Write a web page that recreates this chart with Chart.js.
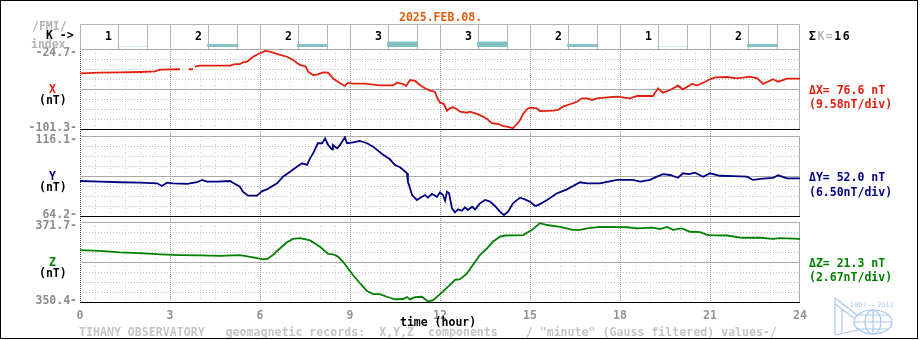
<!DOCTYPE html>
<html>
<head>
<meta charset="utf-8">
<script src="https://cdn.jsdelivr.net/npm/chart.js@4.4.0/dist/chart.umd.min.js"></script>
<style>
  html, body { margin: 0; padding: 0; background: #fff; }
  #wrap { position: relative; width: 920px; height: 340px; overflow: hidden; background: #fff; }
  #wrap canvas { position: absolute; left: 0; top: 0; }
  .frame { position: absolute; left: 0; top: 0; width: 918px; height: 339px; box-sizing: border-box; border: 1px solid #000; }
  .t { position: absolute; font: bold 11.5px "DejaVu Sans Mono", monospace; line-height: 12px; white-space: pre; }
  .gray { color: #b4b4b4; }
  .red { color: #e02010; }
  .navy { color: #000080; }
  .green { color: #008000; }
</style>
</head>
<body>
<div id="wrap">
  <canvas id="kChart" width="920" height="340"></canvas>
  <canvas id="xChart" width="920" height="340"></canvas>
  <canvas id="yChart" width="920" height="340"></canvas>
  <canvas id="zChart" width="920" height="340"></canvas>

  <div class="t" style="left:399px;top:11px;color:#e06010">2025.FEB.08.</div>
  <div class="t gray" style="left:32px;top:20px">/FMI/</div>
  <div class="t" style="left:46px;top:29px">K -&gt;</div>
  <div class="t gray" style="left:31px;top:38px">index</div>
  <div class="t" style="left:809px;top:30px;letter-spacing:1.5px">Σ<span class="gray">K=</span>16</div>

  <div class="t red" style="left:49px;top:83px">X</div>
  <div class="t" style="left:39px;top:94px">(nT)</div>
  <div class="t navy" style="left:49px;top:170px">Y</div>
  <div class="t" style="left:39px;top:181px">(nT)</div>
  <div class="t green" style="left:49px;top:256px">Z</div>
  <div class="t" style="left:39px;top:267px">(nT)</div>

  <div class="t red" style="left:809px;top:84px">ΔX= 76.6 nT</div>
  <div class="t red" style="left:809px;top:98px">(9.58nT/div)</div>
  <div class="t navy" style="left:809px;top:171px">ΔY= 52.0 nT</div>
  <div class="t navy" style="left:809px;top:186px">(6.50nT/div)</div>
  <div class="t green" style="left:809px;top:257px">ΔZ= 21.3 nT</div>
  <div class="t green" style="left:809px;top:271px">(2.67nT/div)</div>

  <div class="t" style="left:400px;top:316px">time (hour)</div>
  <div class="t" style="left:79px;top:326px;color:#c4c4c4;font-size:11.6px">TIHANY OBSERVATORY   geomagnetic records:  X,Y,Z  components    / "minute" (Gauss filtered) values-/</div>

  <svg style="position:absolute;left:830px;top:296px" width="70" height="42" viewBox="0 0 70 42">
    <g fill="none" stroke="#a9c7ee" stroke-width="1.2">
      <path d="M5 2 L5 39 M5 2 L28 20 M5 8 L24 22 M5 39 L28 34 M12 14 L12 36"/>
      <ellipse cx="43" cy="26" rx="19" ry="12"/>
      <ellipse cx="43" cy="26" rx="8" ry="12"/>
      <path d="M24 26 H62 M27 19 H59 M27 33 H59 M43 14 V38"/>
    </g>
    <text x="20" y="11" font-family="DejaVu Sans" font-size="6.5" fill="#a9c7ee">1907 — 2012</text>
  </svg>

  <div class="frame"></div>
</div>

<script>
const kValues = [1, 2, 2, 3, 3, 2, 1, 2];
const kStarts = [0, 3, 6, 9, 12, 15, 18, 21];

const xHours = [
  0, 0.67, 1.33, 2, 2.5, 2.67, 3.33, 3.45, 3.63, 3.77,
  3.8, 3.83, 4, 5, 5.17, 5.33, 5.43, 5.57, 5.77, 6,
  6.17, 6.33, 6.67, 6.9, 7.1, 7.33, 7.53, 7.6, 7.77, 7.93,
  8.1, 8.27, 8.43, 8.67, 8.83, 8.93, 9.1, 9.5, 10, 10.43,
  10.57, 10.77, 10.87, 11, 11.17, 11.33, 11.5, 11.67, 11.83, 11.9,
  12, 12.13, 12.23, 12.33, 12.43, 12.57, 12.67, 12.9, 13, 13.23,
  13.4, 13.57, 13.73, 13.93, 14.1, 14.33, 14.43, 14.57, 14.67, 14.77,
  14.9, 15, 15.23, 15.33, 15.77, 15.93, 16.1, 16.33, 16.57, 16.73,
  16.9, 17.07, 17.23, 17.57, 17.9, 18.33, 18.57, 19.1, 19.27, 19.43,
  19.67, 19.93, 20.1, 20.4, 20.57, 20.77, 21, 21.17, 21.57, 21.9,
  22.33, 22.57, 22.77, 23.1, 23.27, 23.57, 24
];
const xValues = [
  -48.0, -47.4, -47.0, -46.7, -46.2, -44.5, -44.1, null, -44.1, -44.1,
  null, -41.6, -40.7, -40.7, -39.1, -39.1, -37.6, -36.9, -32.1, -28.8,
  -26.6, -27.3, -30.4, -32.1, -35.2, -40.0, -41.6, -46.4, -49.6, -48.9,
  -47.0, -47.4, -52.8, -57.5, -60.1, -57.0, -57.9, -57.9, -59.5, -59.5,
  -57.0, -58.2, -60.1, -54.4, -55.3, -59.2, -62.3, -64.6, -65.6, -70.9,
  -76.1, -77.4, -83.8, -81.5, -80.5, -82.4, -84.7, -85.7, -84.7, -86.9,
  -88.9, -91.7, -95.8, -96.5, -98.4, -99.7, -100.6, -96.5, -92.7, -86.9,
  -82.4, -80.9, -81.5, -84.1, -83.8, -83.1, -79.9, -77.6, -75.2, -71.9,
  -71.9, -73.5, -71.9, -71.0, -70.4, -71.9, -69.7, -69.7, -62.3, -66.5,
  -64.0, -59.8, -63.3, -58.2, -59.5, -57.0, -53.7, -51.8, -51.5, -52.8,
  -51.2, -52.8, -58.2, -53.7, -56.0, -53.1, -53.1
];

const yHours = [
  0, 0.67, 1.33, 2, 2.57, 2.73, 2.9, 3.1, 3.57, 3.9,
  4.07, 4.23, 4.57, 5, 5.1, 5.33, 5.43, 5.6, 5.9, 6.07,
  6.23, 6.57, 6.77, 7, 7.23, 7.4, 7.57, 7.67, 7.77, 7.93,
  8.07, 8.17, 8.27, 8.4, 8.43, 8.57, 8.67, 8.83, 8.9, 9.1,
  9.33, 9.57, 9.77, 10.07, 10.33, 10.5, 10.67, 10.9, 10.93, 11.07,
  11.23, 11.33, 11.5, 11.6, 11.73, 11.9, 12, 12.1, 12.17, 12.23,
  12.3, 12.4, 12.5, 12.6, 12.73, 12.83, 12.93, 13.07, 13.17, 13.33,
  13.5, 13.67, 13.83, 14, 14.13, 14.27, 14.43, 14.67, 14.83, 15,
  15.17, 15.27, 15.57, 15.9, 16.23, 16.67, 16.9, 17.33, 17.9, 18.43,
  18.67, 19, 19.23, 19.43, 19.67, 19.93, 20.1, 20.3, 20.5, 20.77,
  21, 21.33, 21.77, 22.23, 22.43, 22.77, 23.1, 23.27, 23.57, 24
];
const yValues = [
  86.9, 86.5, 86.1, 85.8, 85.4, 83.7, 85.8, 85.4, 85.1, 86.1,
  87.6, 86.5, 86.5, 86.9, 85.8, 83.2, 80.0, 77.4, 77.4, 80.4,
  81.5, 85.4, 89.7, 92.9, 96.2, 98.4, 97.3, 101.6, 104.9, 111.4,
  111.4, 114.6, 110.3, 107.5, 110.3, 108.1, 110.3, 115.3, 111.4, 112.0,
  112.9, 111.4, 109.2, 104.4, 101.0, 97.3, 95.8, 91.9, 86.5, 77.8,
  74.6, 75.9, 77.8, 76.1, 78.5, 76.7, 79.6, 77.8, 74.1, 80.0,
  79.1, 69.2, 66.6, 68.5, 67.6, 69.8, 68.1, 70.2, 68.5, 72.4,
  74.6, 73.5, 70.7, 67.0, 64.8, 67.0, 72.4, 76.1, 75.0, 73.5,
  70.7, 71.3, 74.6, 78.9, 81.5, 86.1, 85.4, 85.4, 87.6, 87.6,
  86.5, 87.6, 89.7, 91.4, 90.8, 89.0, 91.9, 91.4, 92.3, 89.7,
  91.9, 90.3, 90.1, 89.7, 87.6, 88.4, 89.0, 90.6, 88.6, 88.6
];

const zHours = [
  0, 0.67, 1.33, 2, 2.67, 3.33, 4, 4.67, 5.33, 5.77,
  6.07, 6.23, 6.43, 6.67, 6.9, 7.1, 7.33, 7.67, 8, 8.27,
  8.43, 8.6, 8.77, 8.93, 9.1, 9.33, 9.57, 9.77, 10, 10.23,
  10.5, 10.77, 10.9, 11, 11.17, 11.4, 11.6, 11.77, 12, 12.27,
  12.5, 12.67, 12.9, 13.1, 13.33, 13.57, 13.77, 14, 14.17, 14.77,
  15.07, 15.33, 15.57, 16, 16.43, 16.67, 16.9, 17.33, 18.23, 18.57,
  19.1, 19.33, 19.57, 19.77, 20.07, 20.33, 20.67, 20.93, 21.57, 22.07,
  22.67, 23.1, 23.33, 24
];
const zValues = [
  364.2, 364.0, 363.6, 363.4, 363.1, 362.9, 362.8, 362.7, 362.9, 362.3,
  361.8, 361.8, 362.9, 364.7, 366.3, 367.2, 367.4, 366.8, 365.1, 363.2,
  363.1, 362.5, 361.1, 359.4, 357.6, 355.4, 353.3, 352.5, 352.5, 351.8,
  351.1, 351.2, 351.7, 351.1, 351.7, 351.8, 350.5, 350.9, 352.5, 354.5,
  356.3, 356.5, 358.0, 360.3, 362.9, 364.7, 366.5, 367.8, 368.1, 368.2,
  369.6, 371.4, 370.9, 370.4, 369.6, 369.6, 370.0, 370.4, 370.3, 370.0,
  370.2, 369.8, 370.4, 369.6, 370.0, 369.1, 369.0, 368.2, 368.1, 367.5,
  367.5, 367.2, 367.4, 367.2
];

const hourTicks = [0, 3, 6, 9, 12, 15, 18, 21, 24];
const FONT = 'bold 11.5px "DejaVu Sans Mono", monospace';

function dashLine(ctx, x1, y1, x2, y2, color, dash) {
  ctx.beginPath();
  ctx.setLineDash(dash);
  ctx.strokeStyle = color;
  ctx.moveTo(x1, y1);
  ctx.lineTo(x2, y2);
  ctx.stroke();
}

const snap = v => Math.round(v) + 0.5;

// grid + value labels of one magnetogram panel
const panelGrid = {
  id: 'panelGrid',
  beforeDatasetsDraw(chart, args, opts) {
    const { ctx, chartArea: a, scales: { x, y } } = chart;
    ctx.save();
    ctx.lineWidth = 1;
    const step = (y.max - y.min) / opts.divs;
    for (let i = 1; i < opts.divs; i++) {
      if (i * 2 === opts.divs) continue;
      const py = snap(y.getPixelForValue(y.min + i * step));
      dashLine(ctx, a.left, py, a.right, py, '#bdbdbd', [1, 2]);
    }
    for (let h = 0.5; h < 24; h += 0.5) {
      const px = snap(x.getPixelForValue(h));
      if (h % 3 === 0) dashLine(ctx, px, a.top, px, a.bottom + opts.gap, '#9a9a9a', [1, 1]);
      else dashLine(ctx, px, a.top, px, a.bottom, '#c8c8c8', [1, 3]);
    }
    const l = snap(x.getPixelForValue(0));
    const r = snap(x.getPixelForValue(24)) - 1;
    dashLine(ctx, l, a.top, l, a.bottom + opts.gap, '#444', [1, 1]);
    dashLine(ctx, r, a.top, r, a.bottom, '#aaa', []);
    const top = snap(y.getPixelForValue(y.max));
    const mid = snap(y.getPixelForValue((y.max + y.min) / 2));
    const bot = snap(y.getPixelForValue(y.min));
    dashLine(ctx, a.left, top, a.right, top, '#aaa', []);
    dashLine(ctx, a.left, mid, a.right, mid, '#aaa', []);
    dashLine(ctx, a.left, bot, a.right, bot, '#000', []);
    ctx.restore();
  },
  afterDraw(chart, args, opts) {
    const { ctx, scales: { x, y } } = chart;
    ctx.save();
    ctx.font = FONT;
    ctx.fillStyle = '#8c8c8c';
    ctx.textAlign = 'right';
    ctx.fillText(y.max.toFixed(1) + '-', 77, y.getPixelForValue(y.max) + 7);
    ctx.fillText(y.min.toFixed(1) + '-', 77, y.getPixelForValue(y.min) + 1.5);
    if (opts.hourTicks) {
      ctx.textAlign = 'center';
      ctx.fillStyle = '#939393';
      hourTicks.forEach(h => ctx.fillText(String(h), x.getPixelForValue(h), 318.5));
    }
    ctx.restore();
  }
};

// K-index row: cells, boxes and numbers
const kGrid = {
  id: 'kGrid',
  beforeDatasetsDraw(chart, args, opts) {
    const { ctx, chartArea: a, scales: { x } } = chart;
    ctx.save();
    ctx.lineWidth = 1;
    const top = snap(a.top);
    dashLine(ctx, a.left, top, a.right, top, '#b4b4b4', []);
    hourTicks.forEach(h => {
      const px = snap(x.getPixelForValue(h)) - (h === 24 ? 1 : 0);
      dashLine(ctx, px, a.top, px, opts.floor, '#b4b4b4', []);
    });
    chart.getDatasetMeta(0).data.forEach(bar => {
      const l = Math.round(bar.x - bar.width / 2) + 0.5;
      const r = Math.round(bar.x + bar.width / 2) - 0.5;
      const b = Math.round(bar.base) - 0.5;
      ctx.beginPath();
      ctx.setLineDash([]);
      ctx.strokeStyle = '#b4b4b4';
      ctx.moveTo(l, top);
      ctx.lineTo(l, b);
      ctx.lineTo(r, b);
      ctx.lineTo(r, top);
      ctx.stroke();
    });
    ctx.restore();
  },
  afterDatasetsDraw(chart) {
    const { ctx, scales: { x } } = chart;
    ctx.save();
    ctx.font = FONT;
    ctx.fillStyle = '#000';
    ctx.textAlign = 'center';
    kValues.forEach((k, i) => ctx.fillText(String(k), x.getPixelForValue(kStarts[i] + 0.95), 39.5));
    ctx.restore();
  }
};

function baseOptions(padTop, padBottom) {
  return {
    responsive: false,
    animation: false,
    devicePixelRatio: 1,
    events: [],
    layout: { padding: { left: 80, right: 120, top: padTop, bottom: padBottom } },
    plugins: { legend: { display: false }, tooltip: { enabled: false } }
  };
}

function drawK() {
  const options = baseOptions(24, 293);
  options.scales = {
    x: { type: 'linear', min: 0, max: 24, offset: false, display: false },
    y: { min: 1, max: 10, display: false }
  };
  options.plugins.kGrid = { floor: 49 };
  new Chart(document.getElementById('kChart'), {
    type: 'bar',
    data: {
      datasets: [{
        data: kValues.map((k, i) => ({ x: kStarts[i] + 1.75, y: k })),
        backgroundColor: '#80c0c0',
        borderWidth: 0,
        barThickness: 30
      }]
    },
    options,
    plugins: [kGrid]
  });
}

function drawPanel(id, hours, values, color, yMin, yMax, padTop, padBottom, gap, ticks) {
  const options = baseOptions(padTop, padBottom);
  options.scales = {
    x: { type: 'linear', min: 0, max: 24, display: false },
    y: { min: yMin, max: yMax, display: false }
  };
  options.plugins.panelGrid = { divs: 8, gap, hourTicks: ticks };
  new Chart(document.getElementById(id), {
    type: 'line',
    data: {
      datasets: [{
        data: hours.map((h, i) => ({ x: h, y: values[i] })),
        borderColor: color,
        borderWidth: 1.8,
        pointRadius: 0,
        tension: 0,
        spanGaps: false,
        fill: false
      }]
    },
    options,
    plugins: [panelGrid]
  });
}

drawK();
drawPanel('xChart', xHours, xValues, '#e02010', -101.3, -24.7, 49, 211, 7, false);
drawPanel('yChart', yHours, yValues, '#000080', 64.2, 116.1, 136, 124, 6, false);
drawPanel('zChart', zHours, zValues, '#008000', 350.4, 371.7, 222, 38, 0, true);
</script>
</body>
</html>
